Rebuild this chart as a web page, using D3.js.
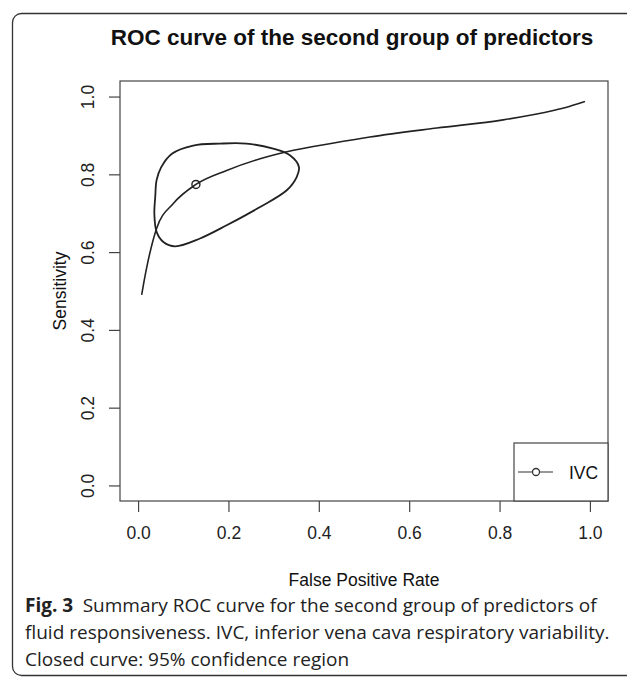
<!DOCTYPE html>
<html>
<head>
<meta charset="utf-8">
<script src="https://cdn.jsdelivr.net/npm/d3@7"></script>
<style>
  body { margin: 0; background: #fff; }
  svg text { fill: #111; }
</style>
</head>
<body>
<svg id="chart" width="627" height="680"></svg>
<script>
// summary ROC curve (false positive rate vs sensitivity)
var srocFpr  = [0.008, 0.014, 0.021, 0.041, 0.078, 0.128, 0.196, 0.270, 0.344, 0.430, 0.513, 0.661, 0.808, 0.919, 0.956, 0.989];
var srocSens = [0.490, 0.530, 0.571, 0.661, 0.725, 0.774, 0.810, 0.840, 0.862, 0.880, 0.896, 0.919, 0.940, 0.964, 0.975, 0.987];

// 95% confidence region (closed curve)
var regionFpr  = [0.122, 0.181, 0.240, 0.299, 0.336, 0.356, 0.351, 0.329, 0.270, 0.196, 0.137, 0.082, 0.056, 0.041, 0.036, 0.038, 0.041, 0.051, 0.075];
var regionSens = [0.874, 0.879, 0.879, 0.866, 0.849, 0.819, 0.793, 0.759, 0.716, 0.669, 0.635, 0.615, 0.626, 0.652, 0.699, 0.742, 0.785, 0.818, 0.853];

// summary point
var pointFpr = [0.128];
var pointSens = [0.774];

var xTicks = [0, 0.2, 0.4, 0.6, 0.8, 1.0];
var yTicks = [0, 0.2, 0.4, 0.6, 0.8, 1.0];
var seriesName = "IVC";

var svg = d3.select("#chart");
var rFont = "Liberation Sans, Arial, sans-serif";

var box = {left: 120, right: 608, top: 81, bottom: 501};

var x = d3.scaleLinear().domain([-0.04, 1.04]).range([box.left, box.right]);
var y = d3.scaleLinear().domain([-0.04, 1.04]).range([box.bottom, box.top]);

// outer figure frame (right side runs off the picture)
svg.append("rect")
    .attr("x", 12.5).attr("y", 13.5)
    .attr("width", 640).attr("height", 662)
    .attr("rx", 9).attr("ry", 9)
    .style("fill", "none")
    .style("stroke", "#333")
    .style("stroke-width", 1.3);

svg.append("text")
    .attr("x", 352).attr("y", 45)
    .attr("text-anchor", "middle")
    .style("font-family", rFont)
    .style("font-weight", "bold")
    .style("font-size", "22.5px")
    .text("ROC curve of the second group of predictors");

// plot box
svg.append("rect")
    .attr("x", box.left).attr("y", box.top)
    .attr("width", box.right - box.left).attr("height", box.bottom - box.top)
    .style("fill", "none")
    .style("stroke", "#444")
    .style("stroke-width", 1.2);

var xAxis = svg.append("g")
    .attr("transform", "translate(0," + box.bottom + ")")
    .call(d3.axisBottom(x).tickValues(xTicks).tickFormat(d3.format(".1f")).tickSize(11).tickPadding(15));

var yAxis = svg.append("g")
    .attr("transform", "translate(" + box.left + ",0)")
    .call(d3.axisLeft(y).tickValues(yTicks).tickFormat(d3.format(".1f")).tickSize(11).tickPadding(0));

[xAxis, yAxis].forEach(function(g){
    g.select(".domain").remove();
    g.selectAll(".tick line").style("stroke", "#444").style("stroke-width", 1.2);
    g.selectAll("text")
        .style("font-family", rFont)
        .style("font-size", "17.5px")
        .style("fill", "#222");
});

// rotate y tick labels like R's base graphics
yAxis.selectAll(".tick text")
    .attr("x", null).attr("dy", null)
    .attr("text-anchor", "middle")
    .attr("transform", "translate(-26,0) rotate(-90)");

svg.append("text")
    .attr("x", 364).attr("y", 586)
    .attr("text-anchor", "middle")
    .style("font-family", rFont)
    .style("font-size", "17.5px")
    .text("False Positive Rate");

svg.append("text")
    .attr("transform", "translate(66," + ((box.top + box.bottom) / 2) + ") rotate(-90)")
    .attr("text-anchor", "middle")
    .style("font-family", rFont)
    .style("font-size", "17.5px")
    .text("Sensitivity");

var sroc = d3.zip(srocFpr, srocSens);
var region = d3.zip(regionFpr, regionSens);

var rocLine = d3.line()
    .x(function(d){ return x(d[0]); })
    .y(function(d){ return y(d[1]); })
    .curve(d3.curveMonotoneX);

svg.append("path")
    .datum(sroc)
    .attr("d", rocLine)
    .style("fill", "none")
    .style("stroke", "#222")
    .style("stroke-width", 1.6);

var regionLine = d3.line()
    .x(function(d){ return x(d[0]); })
    .y(function(d){ return y(d[1]); })
    .curve(d3.curveCatmullRomClosed);

svg.append("path")
    .datum(region)
    .attr("d", regionLine)
    .style("fill", "none")
    .style("stroke", "#222")
    .style("stroke-width", 1.8);

svg.selectAll("circle.pt")
    .data(d3.zip(pointFpr, pointSens))
    .enter().append("circle")
    .attr("class", "pt")
    .attr("cx", function(d){ return x(d[0]); })
    .attr("cy", function(d){ return y(d[1]); })
    .attr("r", 4)
    .style("fill", "none")
    .style("stroke", "#222")
    .style("stroke-width", 1.4);

// legend
var legend = svg.append("g").attr("transform", "translate(514,443)");
legend.append("rect")
    .attr("width", box.right - 514).attr("height", box.bottom - 443)
    .style("fill", "#fff")
    .style("stroke", "#444")
    .style("stroke-width", 1.2);
legend.append("line")
    .attr("x1", 4).attr("x2", 39).attr("y1", 29).attr("y2", 29)
    .style("stroke", "#333").style("stroke-width", 1.2);
legend.append("circle")
    .attr("cx", 22).attr("cy", 29).attr("r", 3.5)
    .style("fill", "#fff").style("stroke", "#333").style("stroke-width", 1.3);
legend.append("text")
    .attr("x", 55).attr("y", 35.5)
    .style("font-family", rFont)
    .style("font-size", "17.5px")
    .text(seriesName);

// caption below the figure
var caption = svg.append("text")
    .style("font-family", "Open Sans, Noto Sans, sans-serif")
    .style("font-size", "19px")
    .style("fill", "#222");
var l1 = caption.append("tspan").attr("x", 25).attr("y", 612);
l1.append("tspan").style("font-weight", "bold").text("Fig. 3");
l1.append("tspan").text("\u2002Summary ROC curve for the second group of predictors of");
caption.append("tspan").attr("x", 25).attr("y", 639)
    .text("fluid responsiveness. IVC, inferior vena cava respiratory variability.");
caption.append("tspan").attr("x", 25).attr("y", 666)
    .text("Closed curve: 95% confidence region");
</script>
</body>
</html>
